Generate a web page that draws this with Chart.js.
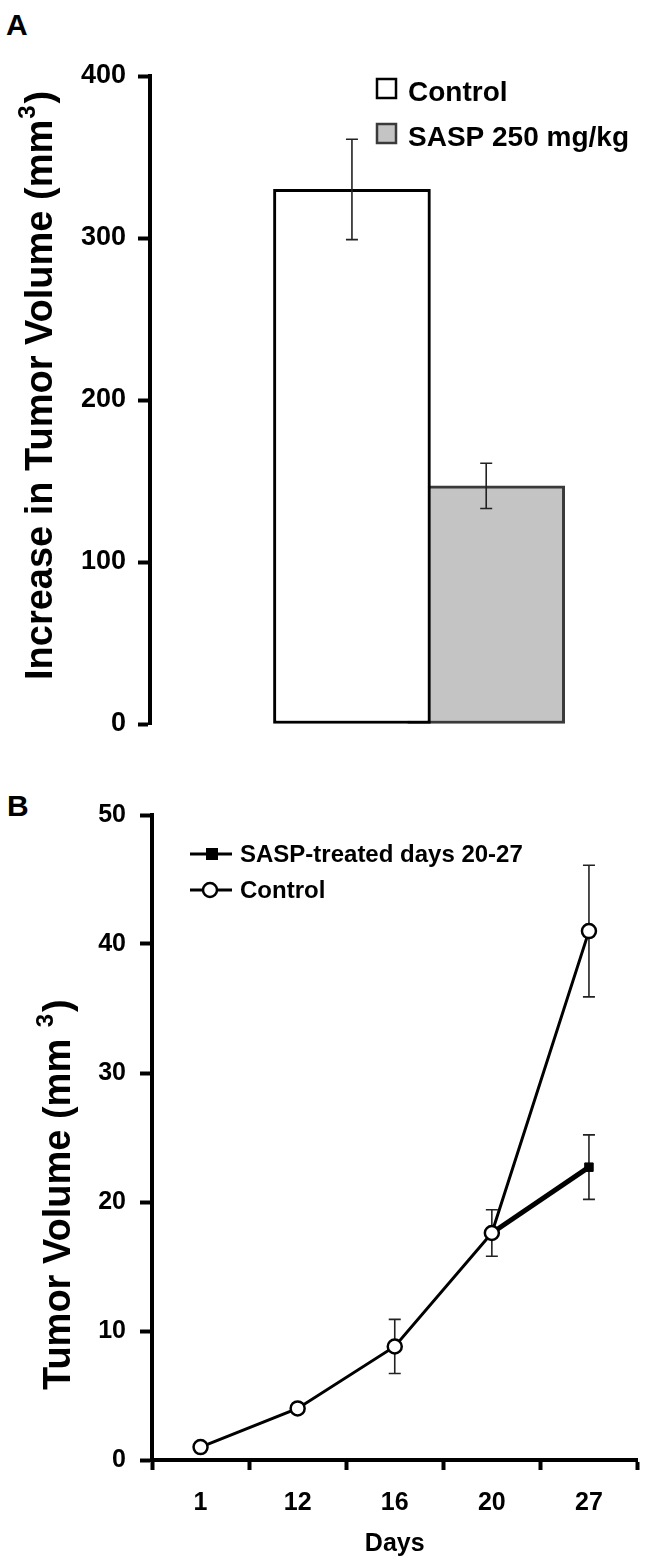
<!DOCTYPE html>
<html>
<head>
<meta charset="utf-8">
<script src="https://cdn.jsdelivr.net/npm/chart.js@4.4.0/dist/chart.umd.min.js"></script>
<style>
  html, body { margin: 0; padding: 0; background: #fff; }
  body { width: 647px; height: 1559px; position: relative; overflow: hidden; font-family: "Liberation Sans", Arial, sans-serif; }
  .panel { position: absolute; left: 0; }
  .letter { position: absolute; font-weight: bold; font-size: 30px; line-height: 1; }
</style>
</head>
<body>
<div class="letter" style="left:6px;top:10px">A</div>
<div class="letter" style="left:7px;top:791px">B</div>
<div class="panel" style="top:0"><canvas id="chartA" width="647" height="770"></canvas></div>
<div class="panel" style="top:770px"><canvas id="chartB" width="647" height="789"></canvas></div>
<script>
// ---- panel A data
var groupsA = ['Control', 'SASP 250 mg/kg'];
var increaseMean = [330, 147];
var increaseErr = [31, 14];
var ticksA = [0, 100, 200, 300, 400];

// ---- panel B data
var days = ['1', '12', '16', '20', '27'];
var controlVol = [1.0, 4.0, 8.8, 17.6, 41.0];
var controlErr = [0, 0, 2.1, 1.8, 5.1];
var saspVol = [null, null, null, 17.6, 22.7];
var saspErr = [null, null, null, 0, 2.5];
var ticksB = [0, 10, 20, 30, 40, 50];

var FONT = '"Liberation Sans", Arial, sans-serif';
Chart.defaults.font.family = FONT;
Chart.defaults.color = '#000';

// error bars, drawn from each dataset's "errors" array
function errorBars(hook) {
    var p = { id: 'errorBars' };
    p[hook] = function (chart) {
        var ctx = chart.ctx, ys = chart.scales.y;
        ctx.save();
        ctx.strokeStyle = '#222';
        ctx.lineWidth = 1.6;
        chart.data.datasets.forEach(function (ds, i) {
            var meta = chart.getDatasetMeta(i);
            meta.data.forEach(function (el, j) {
                var e = ds.errors[j];
                var v = meta.controller.getParsed(j).y;
                if (!e || v == null || isNaN(v)) return;
                var x = el.x, hi = ys.getPixelForValue(v + e), lo = ys.getPixelForValue(v - e);
                ctx.beginPath();
                ctx.moveTo(x, hi); ctx.lineTo(x, lo);
                ctx.moveTo(x - 6, hi); ctx.lineTo(x + 6, hi);
                ctx.moveTo(x - 6, lo); ctx.lineTo(x + 6, lo);
                ctx.stroke();
            });
        });
        ctx.restore();
    };
    return p;
}

// rotated y title with superscript
function yTitle(main, sup, tail, x, yStart) {
    return {
        id: 'yTitle',
        afterDraw: function (chart) {
            var ctx = chart.ctx;
            ctx.save();
            ctx.translate(x, yStart);
            ctx.rotate(-Math.PI / 2);
            ctx.fillStyle = '#000';
            ctx.textAlign = 'left';
            ctx.textBaseline = 'alphabetic';
            ctx.font = 'bold 38px ' + FONT;
            ctx.fillText(main, 0, 0);
            var w = ctx.measureText(main).width;
            ctx.font = 'bold 24px ' + FONT;
            ctx.fillText(sup, w + 1, -17);
            var w2 = ctx.measureText(sup).width;
            ctx.font = 'bold 38px ' + FONT;
            ctx.fillText(tail, w + w2 + 3, 0);
            ctx.restore();
        }
    };
}

var legendA = {
    id: 'legendA',
    afterDraw: function (chart) {
        var ctx = chart.ctx;
        ctx.save();
        chart.data.datasets.forEach(function (ds, i) {
            var y = 79 + i * 45;
            ctx.fillStyle = ds.backgroundColor;
            ctx.fillRect(377, y, 19, 19);
            ctx.strokeStyle = ds.borderColor;
            ctx.lineWidth = 2.5;
            ctx.strokeRect(377, y, 19, 19);
            ctx.fillStyle = '#000';
            ctx.font = 'bold 28px ' + FONT;
            ctx.textBaseline = 'alphabetic';
            ctx.fillText(ds.label, 408, y + 22);
        });
        ctx.restore();
    }
};

var legendB = {
    id: 'legendB',
    afterDraw: function (chart) {
        var ctx = chart.ctx;
        ctx.save();
        chart.data.datasets.forEach(function (ds, i) {
            var y = 84 + i * 36;
            ctx.strokeStyle = '#000';
            ctx.lineWidth = 3;
            ctx.beginPath(); ctx.moveTo(190, y); ctx.lineTo(232, y); ctx.stroke();
            if (ds.pointStyle === 'rect') {
                ctx.fillStyle = '#000';
                ctx.fillRect(206, y - 6, 12, 12);
            } else {
                ctx.beginPath(); ctx.arc(210, y, 7, 0, Math.PI * 2);
                ctx.fillStyle = '#fff'; ctx.fill();
                ctx.lineWidth = 2.5; ctx.stroke();
            }
            ctx.fillStyle = '#000';
            ctx.font = 'bold 24px ' + FONT;
            ctx.textBaseline = 'middle';
            ctx.fillText(ds.label, 240, y + 1);
        });
        ctx.restore();
    }
};

// ---- panel A: bar chart
var barFill = ['#ffffff', '#c4c4c4'];
var barEdge = ['#000000', '#3a3a3a'];

new Chart(document.getElementById('chartA').getContext('2d'), {
    type: 'bar',
    data: {
        datasets: groupsA.map(function (g, i) {
            return {
                label: g,
                data: [{ x: i, y: increaseMean[i] }],
                errors: [increaseErr[i]],
                backgroundColor: barFill[i],
                borderColor: barEdge[i],
                borderWidth: 3,
                borderSkipped: false,
                barThickness: 157,
                grouped: false
            };
        })
    },
    options: {
        responsive: false,
        animation: false,
        layout: { padding: { top: 76, right: 10, bottom: 46, left: 0 } },
        plugins: { legend: { display: false }, tooltip: { enabled: false } },
        scales: {
            x: { type: 'linear', min: -1.245, max: 1.864, display: false },
            y: {
                min: ticksA[0],
                max: ticksA[ticksA.length - 1],
                afterBuildTicks: function (s) { s.ticks = ticksA.map(function (v) { return { value: v }; }); },
                afterFit: function (s) { s.width = 150; },
                grid: { drawOnChartArea: false, drawTicks: true, tickLength: 12, tickWidth: 4, tickColor: '#000' },
                border: { display: true, color: '#000', width: 4 },
                ticks: { padding: 12, color: '#000', font: { size: 27, weight: 'bold' } }
            }
        }
    },
    plugins: [errorBars('afterDatasetsDraw'), legendA, yTitle('Increase in Tumor Volume (mm', '3', ')', 52, 680)]
});

// ---- panel B: line chart
new Chart(document.getElementById('chartB').getContext('2d'), {
    type: 'line',
    data: {
        labels: days,
        datasets: [{
            label: 'SASP-treated days 20-27',
            data: saspVol,
            errors: saspErr,
            borderColor: '#000',
            borderWidth: 5,
            pointStyle: 'rect',
            pointRadius: 6,
            pointBackgroundColor: '#000',
            pointBorderColor: '#000',
            pointBorderWidth: 1,
            order: 1
        }, {
            label: 'Control',
            data: controlVol,
            errors: controlErr,
            borderColor: '#000',
            borderWidth: 3,
            pointStyle: 'circle',
            pointRadius: 7,
            pointBackgroundColor: '#fff',
            pointBorderColor: '#000',
            pointBorderWidth: 2.5,
            order: 0
        }]
    },
    options: {
        responsive: false,
        animation: false,
        layout: { padding: { top: 45, right: 0, bottom: 0, left: 0 } },
        plugins: { legend: { display: false }, tooltip: { enabled: false } },
        scales: {
            x: {
                offset: true,
                afterFit: function (s) { s.height = 99; },
                grid: { offset: true, drawOnChartArea: false, drawTicks: true, tickLength: 10, tickWidth: 4, tickColor: '#000' },
                border: { display: true, color: '#000', width: 4 },
                ticks: { padding: 18, color: '#000', font: { size: 25, weight: 'bold' } },
                title: { display: true, text: 'Days', color: '#000', padding: { top: 0, bottom: 0 }, font: { size: 25, weight: 'bold' } }
            },
            y: {
                min: ticksB[0],
                max: ticksB[ticksB.length - 1],
                afterBuildTicks: function (s) { s.ticks = ticksB.map(function (v) { return { value: v }; }); },
                afterFit: function (s) { s.width = 152; },
                grid: { drawOnChartArea: false, drawTicks: true, tickLength: 12, tickWidth: 4, tickColor: '#000' },
                border: { display: true, color: '#000', width: 4 },
                ticks: { padding: 14, color: '#000', font: { size: 25, weight: 'bold' } }
            }
        }
    },
    plugins: [errorBars('beforeDatasetsDraw'), legendB, yTitle('Tumor Volume (mm ', '3', ')', 70, 620)]
});
</script>
</body>
</html>
